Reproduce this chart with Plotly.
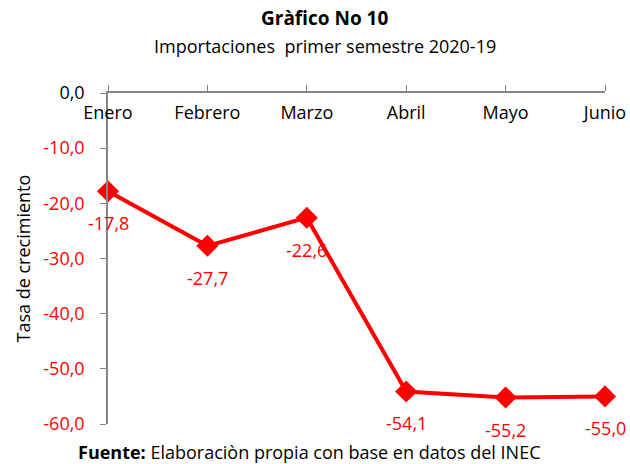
import plotly.graph_objects as go

meses = ["Enero", "Febrero", "Marzo", "Abril", "Mayo", "Junio"]
tasas = [-17.8, -27.7, -22.6, -54.1, -55.2, -55.0]
etiquetas = ["-17,8", "-27,7", "-22,6", "-54,1", "-55,2", "-55,0"]
y_ticks = [0, -10, -20, -30, -40, -50, -60]
y_ticktext = ["0,0", "-10,0", "-20,0", "-30,0", "-40,0", "-50,0", "-60,0"]

RED = "#FF0000"
FONT = "Open Sans"
FS = 18

fig = go.Figure()
fig.add_trace(go.Scatter(
    x=meses, y=tasas, mode="lines+markers",
    line=dict(color=RED, width=4),
    marker=dict(symbol="diamond", size=17, color=RED),
    cliponaxis=False, showlegend=False, hoverinfo="skip",
))

anns = []
for m, v, t in zip(meses, tasas, etiquetas):
    anns.append(dict(x=m, y=v, text=t, showarrow=False, yshift=-32,
                     font=dict(family=FONT, size=FS, color=RED)))

PW = 630 - 108 - 25
def px(x):
    return (x - 108) / PW

anns.append(dict(xref="paper", yref="paper", x=px(22), y=0.5,
                 xanchor="center", yanchor="middle",
                 text="Tasa de crecimiento", textangle=-90, showarrow=False,
                 font=dict(family=FONT, size=FS, color="#000000")))
anns.append(dict(xref="paper", yref="paper", x=px(309), y=-0.085,
                 xanchor="center", yanchor="middle",
                 text="<b>Fuente:</b> Elaboraciòn propia con base en datos del INEC",
                 showarrow=False, font=dict(family=FONT, size=FS, color="#000000")))
anns.append(dict(xref="paper", yref="paper", x=px(324), y=1.2266,
                 xanchor="center", yanchor="middle",
                 text="<b>Gràfico No 10</b>", showarrow=False,
                 font=dict(family=FONT, size=19, color="#000000")))
anns.append(dict(xref="paper", yref="paper", x=px(325), y=1.142,
                 xanchor="center", yanchor="middle",
                 text="Importaciones  primer semestre 2020-19", showarrow=False,
                 font=dict(family=FONT, size=FS, color="#000000")))

fig.update_layout(
    width=630, height=464,
    margin=dict(l=108, r=25, t=93, b=40, autoexpand=False),
    paper_bgcolor="white", plot_bgcolor="white",
    font=dict(family=FONT, size=FS, color="#000000"),
    annotations=anns,
)

fig.update_xaxes(
    type="category", range=[0, 5], side="top", automargin=False,
    showline=True, linecolor="#868686", linewidth=1.5,
    ticks="outside", ticklen=6, tickcolor="#868686",
    ticklabelposition="inside", ticklabelstandoff=14, ticklabeloverflow="allow",
    showgrid=False, zeroline=False,
    tickfont=dict(family=FONT, size=FS, color="#000000"),
)
fig.update_yaxes(
    range=[-60, 0], tickvals=y_ticks, automargin=False,
    ticktext=["<span style='color:#000000'>" + y_ticktext[0] + "</span>"] +
             ["<span style='color:#FF0000'>" + t + "</span>" for t in y_ticktext[1:]],
    showline=True, linecolor="#868686", linewidth=1.5,
    ticks="outside", ticklen=6, tickcolor="#868686",
    ticklabelstandoff=12, ticklabeloverflow="allow",
    showgrid=False, zeroline=False,
    tickfont=dict(family=FONT, size=FS, color=RED),
)

fig.write_html("out.html", config={"displayModeBar": False},
               post_script="document.body.style.margin='0px';")
